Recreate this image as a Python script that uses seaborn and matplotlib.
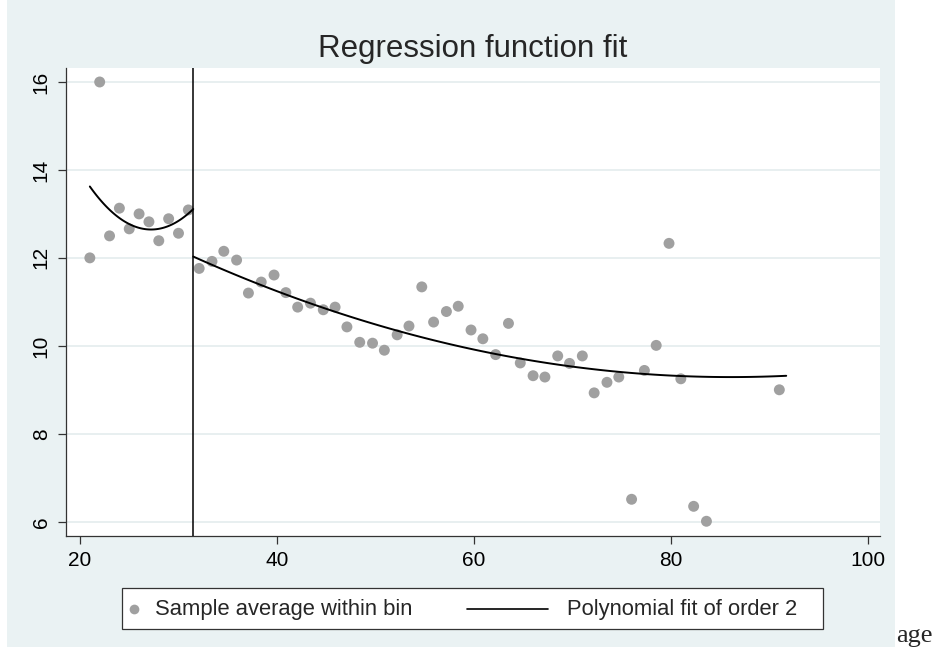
import matplotlib
matplotlib.use("Agg")
from matplotlib import pyplot as plt
from matplotlib.patches import Rectangle
from matplotlib.lines import Line2D
import pandas as pd
import seaborn as sns

# Bin averages (age bin centre, sample average)
left_age = [21, 22, 23, 24, 25, 26, 27, 28, 29, 30, 31]
left_avg = [12.0, 16.0, 12.5, 13.13, 12.66, 13.0, 12.82, 12.39, 12.89, 12.56, 13.09]

right_age = [32.1, 33.4, 34.6, 35.9, 37.1, 38.4, 39.7, 40.9, 42.1, 43.4,
             44.7, 45.9, 47.1, 48.4, 49.7, 50.9, 52.2, 53.4, 54.7, 55.9,
             57.2, 58.4, 59.7, 60.9, 62.2, 63.5, 64.7, 66.0, 67.2, 68.5,
             69.7, 71.0, 72.2, 73.5, 74.7, 76.0, 77.3, 78.5, 79.8, 81.0,
             82.3, 83.6, 91.0]
right_avg = [11.76, 11.92, 12.15, 11.95, 11.2, 11.45, 11.61, 11.21, 10.88, 10.97,
             10.82, 10.88, 10.43, 10.08, 10.06, 9.9, 10.25, 10.45, 11.34, 10.54,
             10.78, 10.9, 10.36, 10.16, 9.8, 10.51, 9.61, 9.32, 9.29, 9.77,
             9.6, 9.77, 8.93, 9.17, 9.29, 6.51, 9.44, 10.01, 12.33, 9.25,
             6.35, 6.01, 9.0]

left_fit_age = [21, 23, 25, 27, 29, 31.5]
left_fit_val = [13.63, 13.09, 12.76, 12.64, 12.75, 13.1]
right_fit_age = [31.5, 35, 40, 45, 50, 55, 60, 65, 70, 75, 80, 85, 91.7]
right_fit_val = [12.03, 11.69, 11.24, 10.84, 10.49, 10.18, 9.91, 9.70, 9.53, 9.40, 9.32, 9.29, 9.32]

cutoff = 31.5
x_ticks = [20, 40, 60, 80, 100]
y_ticks = [6, 8, 10, 12, 14, 16]
legend_labels = ["Sample average within bin", "Polynomial fit of order 2"]

bins = pd.DataFrame({"age": left_age + right_age, "avg": left_avg + right_avg})

bg = "#eaf2f3"
grid_col = "#e4ecee"
axis_col = "#333333"
dot_col = "#a0a0a0"

sns.set_style("white")
plt.rcParams["font.family"] = ["Liberation Sans", "DejaVu Sans"]

W, H = 945, 656
fig = plt.figure(figsize=(W / 100, H / 100), dpi=100)


def fx(px):
    return px / W


def fy(py):
    return (H - py) / H


# light bluish-grey graph region
fig.patches.append(Rectangle((fx(7), fy(647)), fx(888), 1, transform=fig.transFigure,
                             facecolor=bg, edgecolor="none", zorder=-10))

ax = fig.add_axes([fx(66), fy(536), fx(814), 468 / H])
ax.set_facecolor("white")

for y in y_ticks:
    ax.axhline(y, color=grid_col, lw=1.2, zorder=0)

sns.scatterplot(data=bins, x="age", y="avg", ax=ax, color=dot_col, s=62,
                edgecolor="none", zorder=3)
sns.regplot(x=left_fit_age, y=left_fit_val, order=2, ci=None, scatter=False,
            truncate=True, ax=ax, line_kws=dict(color="black", lw=1.4, zorder=4))
sns.regplot(x=right_fit_age, y=right_fit_val, order=2, ci=None, scatter=False,
            truncate=True, ax=ax, line_kws=dict(color="black", lw=1.4, zorder=4))
ax.axvline(cutoff, color="black", lw=1.1, zorder=4)

ax.set_xlim(18.58, 101.22)
ax.set_ylim(5.675, 16.318)
ax.set_xticks(x_ticks)
ax.set_yticks(y_ticks)
ax.set_xlabel("")
ax.set_ylabel("")

for side in ["top", "right"]:
    ax.spines[side].set_visible(False)
for side in ["left", "bottom"]:
    ax.spines[side].set_color(axis_col)
    ax.spines[side].set_linewidth(0.9)

ax.tick_params(axis="both", direction="out", length=6, width=0.9,
               color=axis_col, labelsize=15, labelcolor="black", pad=5,
               left=True, bottom=True)
ax.tick_params(axis="y", labelrotation=90)
plt.setp(ax.get_yticklabels(), va="center")

fig.text(fx(473), fy(56.7), "Regression function fit",
         ha="center", va="baseline", fontsize=22.5)

# legend box below the plot, Stata style
fig.patches.append(Rectangle((fx(122), fy(629)), fx(701), 41 / H, transform=fig.transFigure,
                             facecolor="white", edgecolor=axis_col, lw=0.9, zorder=5))
fig.lines.append(Line2D([fx(134)], [fy(609)], transform=fig.transFigure, ls="none",
                        marker="o", markersize=7, color=dot_col, markeredgecolor="none",
                        zorder=6))
fig.lines.append(Line2D([fx(467), fx(548)], [fy(609), fy(609)], transform=fig.transFigure,
                        color="black", lw=1.2, zorder=6))
fig.text(fx(155), fy(609), legend_labels[0], fontsize=15.8, va="center", ha="left", zorder=6)
fig.text(fx(567), fy(609), legend_labels[1], fontsize=15.8, va="center", ha="left", zorder=6)

fig.text(fx(896), fy(642), "age", family="Liberation Serif",
         fontsize=19, va="baseline", ha="left")

fig.savefig("out.png", dpi=100)
